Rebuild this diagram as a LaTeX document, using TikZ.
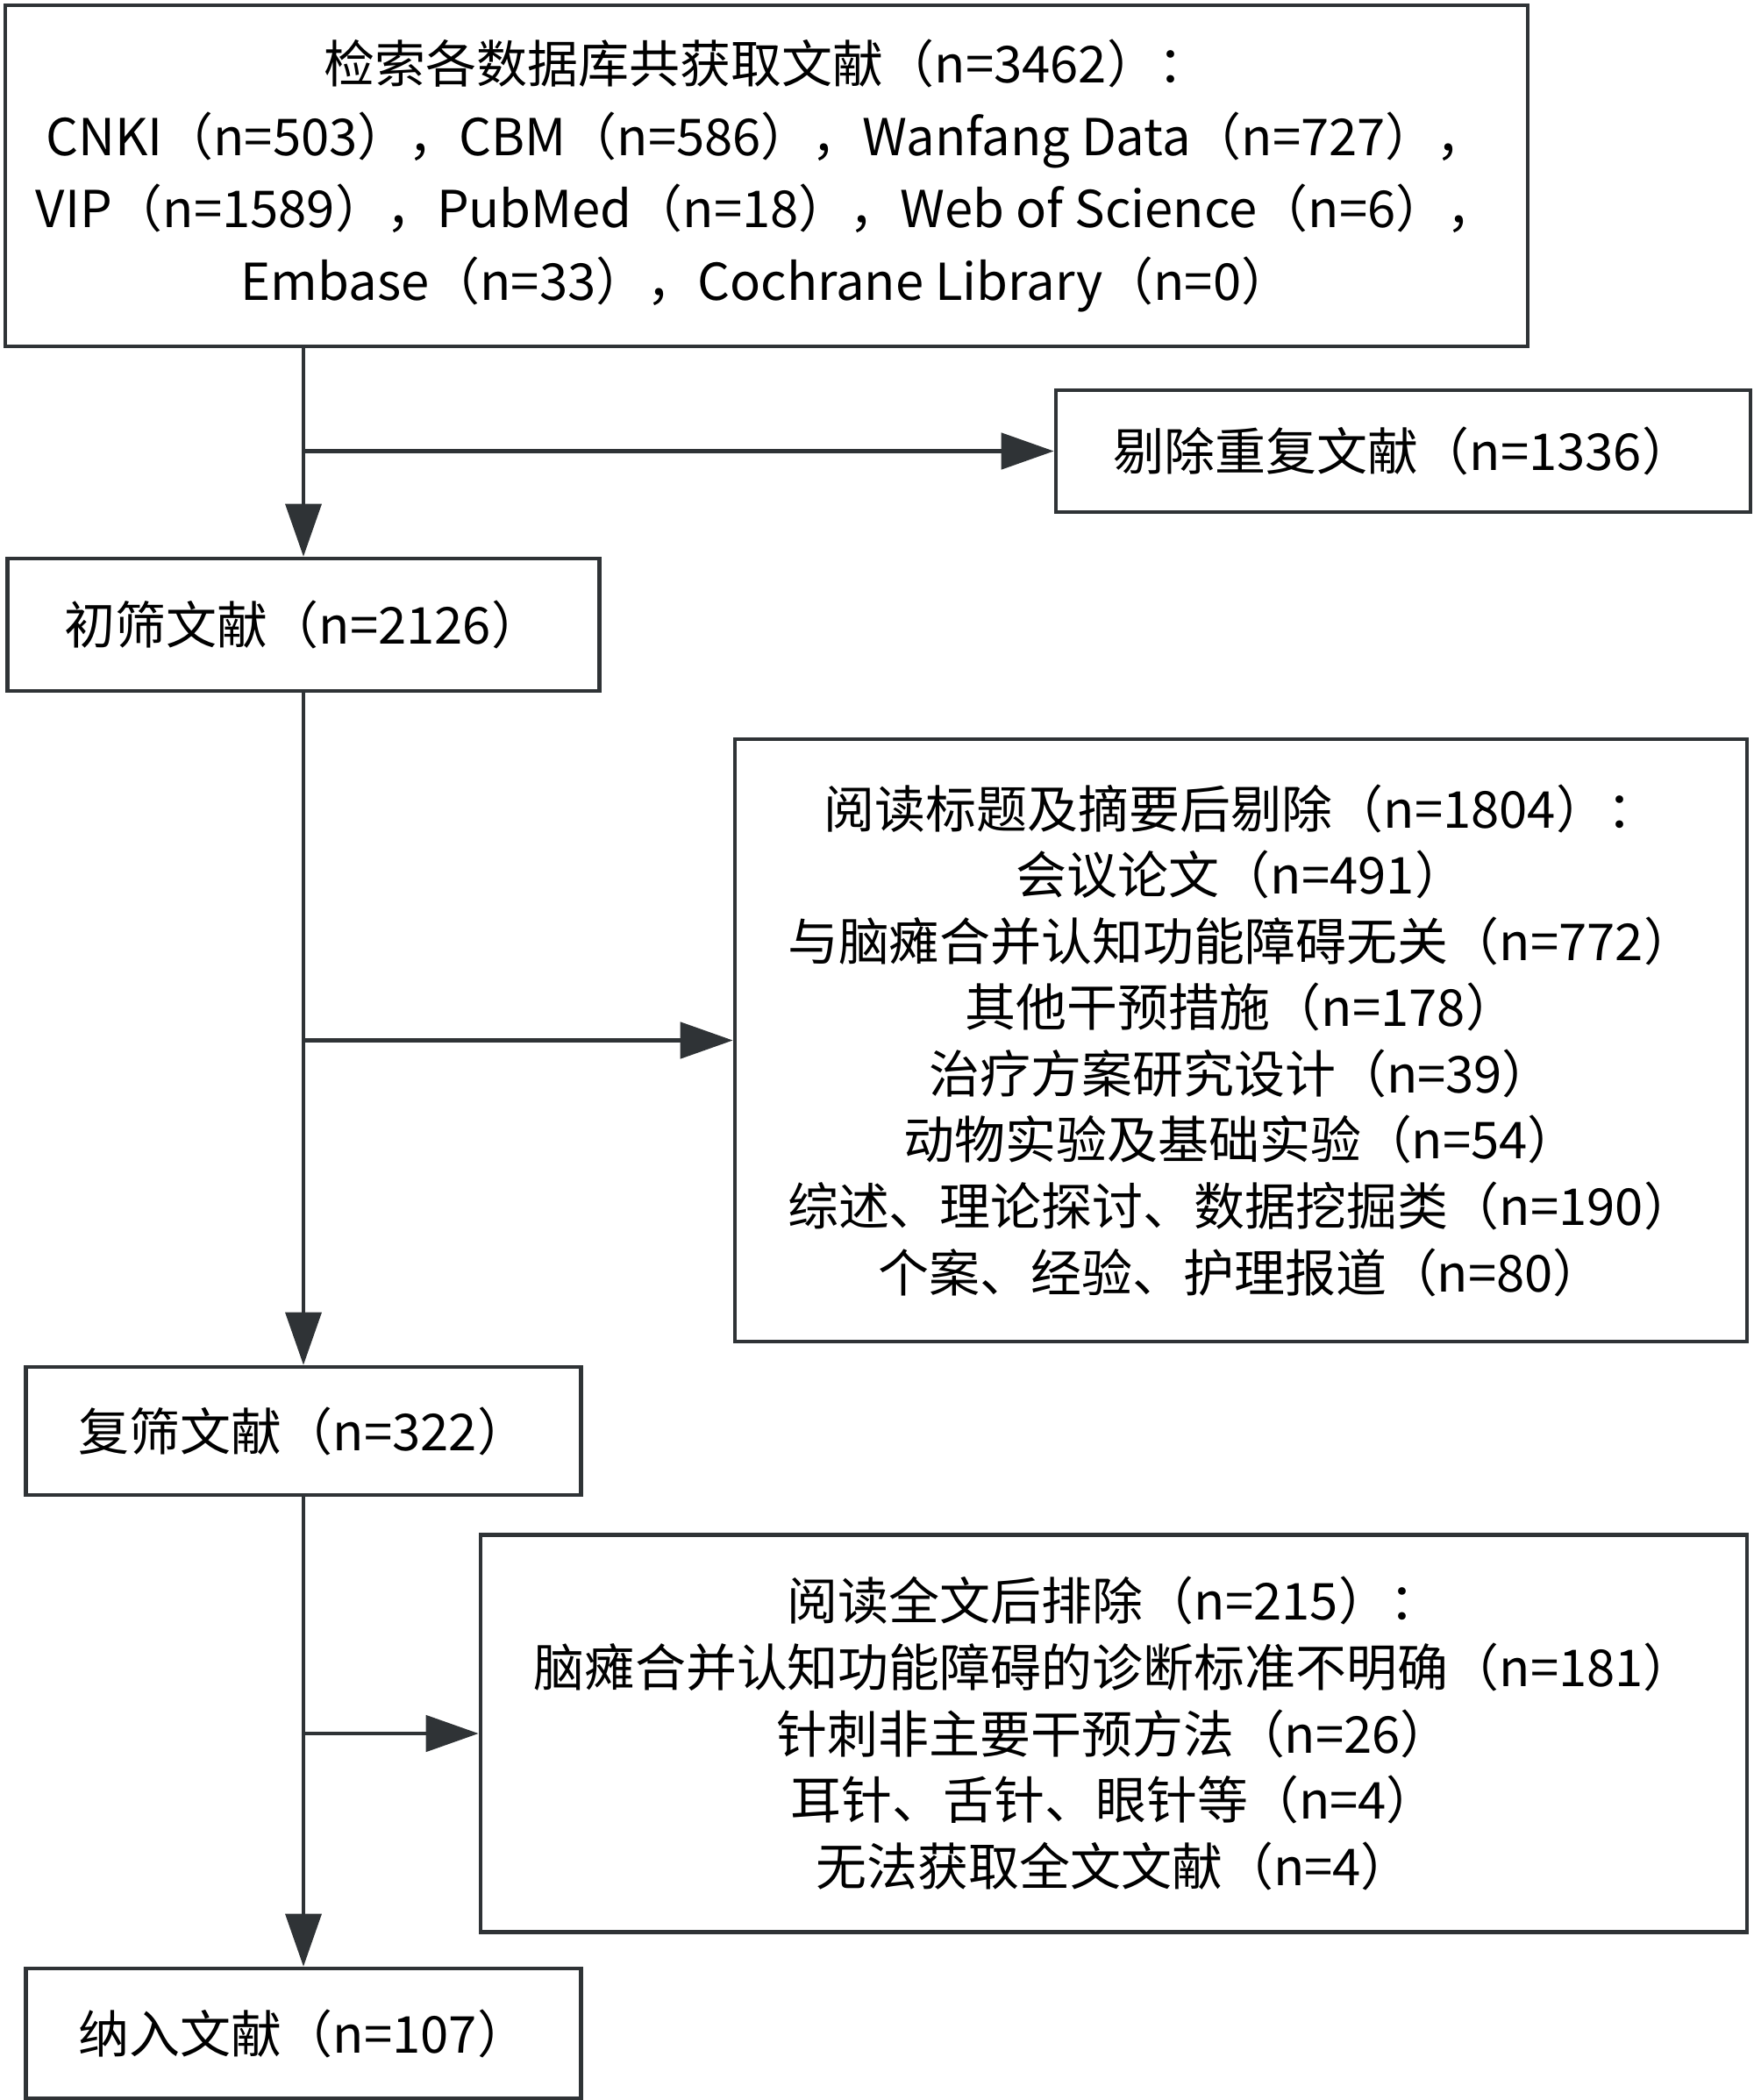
\documentclass[tikz,border=0pt]{standalone}
\usepackage{fontspec}
\setmainfont{Noto Sans CJK SC}
\usetikzlibrary{arrows.meta}
\definecolor{linegray}{HTML}{2F3336}

\begin{document}
\begin{tikzpicture}[
    box/.style={draw=linegray, line width=1.3pt, align=center, inner sep=0pt,
        font=\fontsize{16.5}{21.5}\selectfont},
    arr/.style={draw=linegray, line width=0.95pt, -{Triangle[length=0.6cm,width=0.41cm]}},
    side/.style={arr, line width=1.35pt}
    ]
        \useasboundingbox (0,0) rectangle (20,-23.95);
        \node [box, minimum width=17.36cm, minimum height=3.89cm, font=\fontsize{16.5}{23.5}\selectfont] (src) at (8.74,-2.005)
            {检索各数据库共获取文献（n=3462）：\\
             CNKI（n=503），CBM（n=586），Wanfang Data（n=727），\\
             VIP（n=1589），PubMed（n=18），Web of Science（n=6），\\
             Embase（n=33），Cochrane Library（n=0）};
        \node [box, minimum width=7.92cm, minimum height=1.39cm] (dup) at (16.00,-5.145) {剔除重复文献（n=1336）};
        \node [box, minimum width=6.75cm, minimum height=1.51cm] (chu) at (3.46,-7.125) {初筛文献（n=2126）};
        \node [box, minimum width=11.54cm, minimum height=6.87cm] (abs) at (14.15,-11.865)
            {阅读标题及摘要后剔除（n=1804）：\\
             会议论文（n=491）\\
             与脑瘫合并认知功能障碍无关（n=772）\\
             其他干预措施（n=178）\\
             治疗方案研究设计（n=39）\\
             动物实验及基础实验（n=54）\\
             综述、理论探讨、数据挖掘类（n=190）\\
             个案、经验、护理报道（n=80）};
        \node [box, minimum width=6.33cm, minimum height=1.46cm] (fu) at (3.46,-16.32) {复筛文献（n=322）};
        \node [box, minimum width=14.44cm, minimum height=4.53cm] (full) at (12.70,-19.77)
            {阅读全文后排除（n=215）：\\
             脑瘫合并认知功能障碍的诊断标准不明确（n=181）\\
             针刺非主要干预方法（n=26）\\
             耳针、舌针、眼针等（n=4）\\
             无法获取全文文献（n=4）};
        \node [box, minimum width=6.33cm, minimum height=1.48cm] (na) at (3.46,-23.19) {纳入文献（n=107）};
        \draw [arr] (src.south -| chu.north) -- (chu.north);
        \draw [side] (chu.north |- dup.west) -- (dup.west);
        \draw [arr] (chu.south) -- (fu.north);
        \draw [side] (chu.south |- abs.west) -- (abs.west);
        \draw [arr] (fu.south) -- (na.north);
        \draw [side] (fu.south |- full.west) -- (full.west);
    \end{tikzpicture}
\end{document}
